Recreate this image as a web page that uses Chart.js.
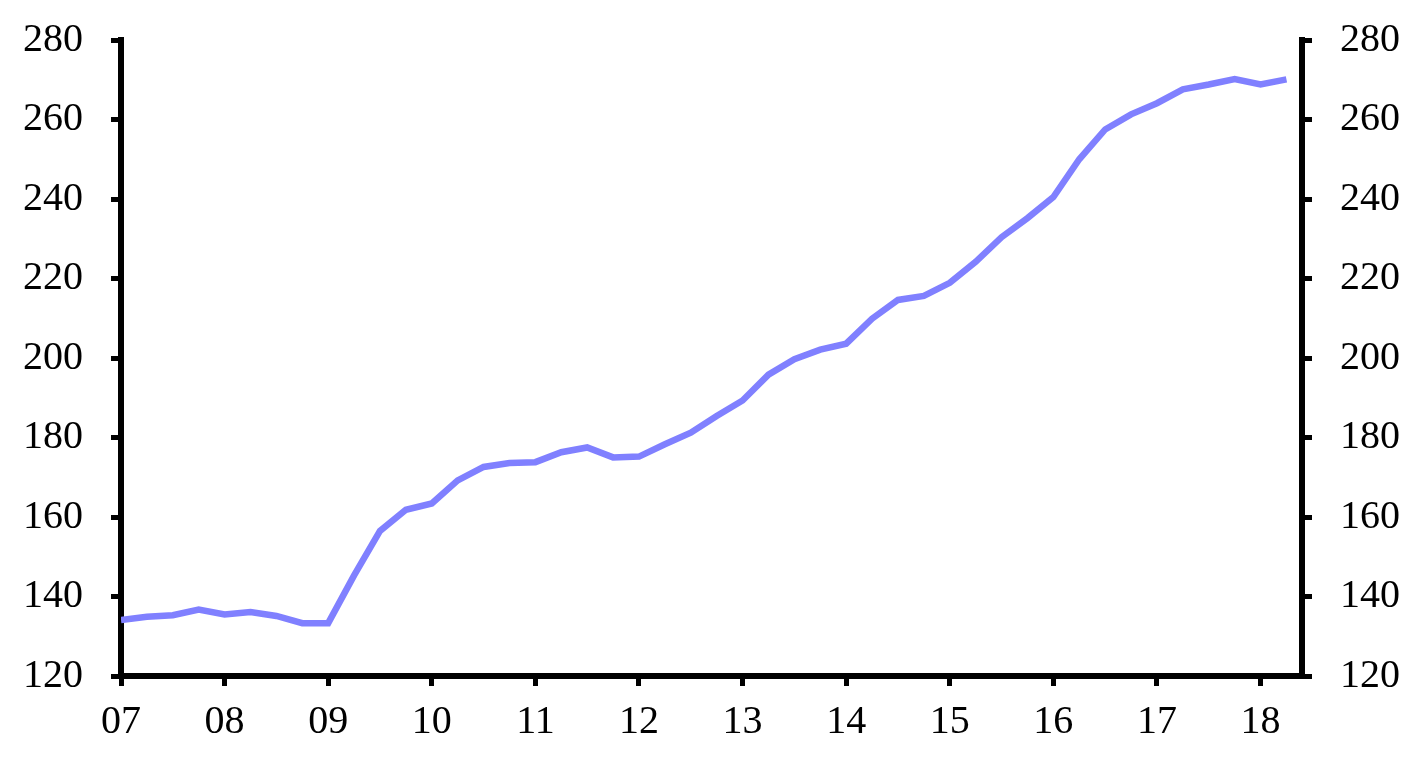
<!DOCTYPE html>
<html>
<head>
<meta charset="utf-8">
<script src="https://cdn.jsdelivr.net/npm/chart.js@4"></script>
<style>
  body { margin: 0; background: #fff; }
  #wrap { width: 1417px; height: 766px; }
</style>
</head>
<body>
<div id="wrap"><canvas id="houseChart" width="1417" height="766"></canvas></div>
<script>
// quarterly, 2007 Q1 .. 2018 Q2
const startYear = 2007;
const values = [
    134.1, 134.9, 135.3, 136.7, 135.5, 136.1, 135.1, 133.3,
    133.3, 145.3, 156.5, 161.8, 163.4, 169.2, 172.6, 173.6,
    173.8, 176.3, 177.5, 175.0, 175.2, 178.3, 181.2, 185.4,
    189.3, 195.8, 199.7, 202.1, 203.6, 209.9, 214.6, 215.6,
    218.9, 224.2, 230.4, 235.2, 240.5, 250.0, 257.5, 261.3,
    264.1, 267.6, 268.8, 270.2, 268.8, 270.1
];
const yTicks = [120, 140, 160, 180, 200, 220, 240, 260, 280];

const points = values.map((v, i) => ({ x: startYear + i * 0.25, y: v }));

const tickFont = { family: "Liberation Serif", size: 40 };

const yAxis = (pos, w) => ({
    type: "linear",
    position: pos,
    min: yTicks[0],
    max: yTicks[yTicks.length - 1],
    afterBuildTicks: s => { s.ticks = yTicks.map(v => ({ value: v })); },
    afterFit: s => { s.width = w; },
    grid: { drawOnChartArea: false, drawTicks: true, tickLength: 10, lineWidth: 5, color: "#000" },
    border: { display: true, width: 6, color: "#000" },
    ticks: { font: { family: "Liberation Serif", size: 40, lineHeight: 0.6 }, color: "#000", padding: 28 }
});

new Chart(document.getElementById("houseChart"), {
    type: "line",
    data: {
        datasets: [{
            data: points,
            borderColor: "#8080ff",
            borderWidth: 6.5,
            pointRadius: 0,
            tension: 0,
            fill: false,
            yAxisID: "y"
        }]
    },
    options: {
        responsive: false,
        animation: false,
        layout: { padding: { top: 38, left: 0, right: 0, bottom: 0 } },
        plugins: {
            legend: { display: false },
            tooltip: { enabled: false }
        },
        scales: {
            x: {
                type: "linear",
                min: 2007,
                max: 2018.4,
                afterBuildTicks: s => {
                    const t = [];
                    for (let yr = 2007; yr <= 2018; yr++) t.push({ value: yr });
                    s.ticks = t;
                },
                afterFit: s => { s.height = 90; },
                grid: { drawOnChartArea: false, drawTicks: true, tickLength: 10, lineWidth: 5, color: "#000" },
                border: { display: true, width: 6, color: "#000" },
                ticks: {
                    font: tickFont,
                    color: "#000",
                    padding: 12,
                    maxRotation: 0,
                    callback: v => String(v % 100).padStart(2, "0")
                }
            },
            y: yAxis("left", 121),
            y2: yAxis("right", 115)
        }
    }
});
</script>
</body>
</html>
